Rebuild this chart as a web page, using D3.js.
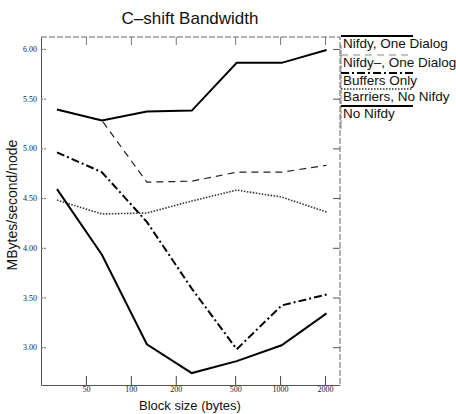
<!DOCTYPE html>
<html>
<head>
<meta charset="utf-8">
<script src="https://cdn.jsdelivr.net/npm/d3@7"></script>
<style>
  body { margin: 0; background: #fff; }
</style>
</head>
<body>
<script>
// chart size
const width = 456;
const height = 414;
const margin = { top: 37, right: 116, bottom: 29, left: 41 };

// data
const blockSizes = [32, 64, 128, 256, 512, 1024, 2048];
const seriesNames = ["Nifdy, One Dialog", "Nifdy\u2013, One Dialog", "Buffers Only", "Barriers, No Nifdy", "No Nifdy"];
const nifdyOne   = [5.39, 5.28, 5.37, 5.38, 5.86, 5.86, 5.99];
const nifdyMinus = [5.39, 5.28, 4.66, 4.67, 4.76, 4.76, 4.83];
const buffers    = [4.96, 4.76, 4.26, 3.59, 2.98, 3.42, 3.53];
const barriers   = [4.48, 4.34, 4.35, 4.47, 4.58, 4.51, 4.36];
const noNifdy    = [4.59, 3.93, 3.03, 2.74, 2.86, 3.02, 3.34];
const xTicks = [50, 100, 200, 500, 1000, 2000];
const yTicks = [3.0, 3.5, 4.0, 4.5, 5.0, 5.5, 6.0];

const allSeries = [nifdyOne, nifdyMinus, buffers, barriers, noNifdy];
const styles = [
  { dash: null,          w: 2,   color: '#000' },
  { dash: '7,5',         w: 1.2, color: '#222' },
  { dash: '8,3,2,3',     w: 2,   color: '#000' },
  { dash: '1.5,1.5',     w: 1.6, color: '#333' },
  { dash: null,          w: 2,   color: '#000' }
];

const svg = d3.select('body')
  .append('svg')
  .attr('width', width)
  .attr('height', height)
  .style('font-family', 'Liberation Sans, Arial, sans-serif');

const x = d3.scaleLog()
  .domain([25, 2520])
  .range([margin.left, width - margin.right]);

const y = d3.scaleLinear()
  .domain([2.62, 6.12])
  .range([height - margin.bottom, margin.top]);

// frame (top and right are dashed like the scan)
const x0 = margin.left, x1 = width - margin.right;
const y0 = margin.top, y1 = height - margin.bottom;
svg.append('path')
  .attr('d', `M${x0},${y0}H${x1}V${y1}`)
  .attr('fill', 'none')
  .attr('stroke', '#666')
  .attr('stroke-dasharray', '6,2');

// axes
svg.append('g')
  .attr('transform', `translate(0,${y1})`)
  .call(d3.axisBottom(x).tickValues(xTicks).tickFormat(d3.format('d')).tickSizeInner(-9).tickSizeOuter(0).tickPadding(1))
  .call(g => g.select('.domain').attr('stroke', '#555'))
  .call(g => g.selectAll('.tick line').attr('stroke', '#444'))
  .call(g => g.selectAll('text').attr('font-family', 'Liberation Serif, serif').attr('font-size', 8).attr('fill', '#222'));

svg.append('g')
  .attr('transform', `translate(${x0},0)`)
  .call(d3.axisLeft(y).tickValues(yTicks).tickFormat(d3.format('.2f')).tickSizeInner(-6).tickSizeOuter(0).tickPadding(4))
  .call(g => g.select('.domain').attr('stroke', '#555'))
  .call(g => g.selectAll('.tick line').attr('stroke', '#666').attr('stroke-dasharray', '2,1'))
  .call(g => g.selectAll('text').attr('font-family', 'Liberation Serif, serif').attr('font-size', 8).attr('fill', '#222'));

// ticks on the top and right edges
svg.append('g')
  .attr('transform', `translate(0,${y0})`)
  .call(d3.axisTop(x).tickValues(xTicks).tickFormat('').tickSizeInner(-8).tickSizeOuter(0))
  .call(g => g.select('.domain').remove())
  .call(g => g.selectAll('.tick line').attr('stroke', '#777'));

svg.append('g')
  .attr('transform', `translate(${x1},0)`)
  .call(d3.axisRight(y).tickValues(yTicks).tickFormat('').tickSizeInner(-7).tickSizeOuter(0))
  .call(g => g.select('.domain').remove())
  .call(g => g.selectAll('.tick line').attr('stroke', '#555'));

// lines (draw dashed ones first so solid ones cover shared part)
const line = d3.line()
  .x((d, i) => x(blockSizes[i]))
  .y(d => y(d));

[1, 2, 3, 4, 0].forEach(k => {
  svg.append('path')
    .datum(allSeries[k])
    .attr('d', line)
    .attr('fill', 'none')
    .attr('stroke', styles[k].color)
    .attr('stroke-width', styles[k].w)
    .attr('stroke-dasharray', styles[k].dash);
});

// legend
const legend = svg.append('g').attr('transform', `translate(${x1 + 1},0)`);
legend.append('line')
  .attr('x1', 0).attr('x2', 0)
  .attr('y1', 45).attr('y2', 130)
  .attr('stroke', '#777')
  .attr('stroke-dasharray', '4,1');

const rowY = [36, 55, 73, 89, 106];
seriesNames.forEach((name, i) => {
  legend.append('line')
    .attr('x1', 0).attr('x2', 72)
    .attr('y1', rowY[i]).attr('y2', rowY[i])
    .attr('stroke', i === 1 ? '#888' : styles[i].color)
    .attr('stroke-width', styles[i].w)
    .attr('stroke-dasharray', styles[i].dash);
  legend.append('text')
    .attr('x', 2)
    .attr('y', rowY[i] + 12)
    .attr('font-size', 13.5)
    .attr('fill', '#111')
    .text(name);
});

// titles
svg.append('text')
  .attr('x', 190).attr('y', 24)
  .attr('text-anchor', 'middle')
  .attr('font-size', 17)
  .attr('fill', '#111')
  .text('C\u2013shift Bandwidth');

svg.append('text')
  .attr('x', 190).attr('y', 410)
  .attr('text-anchor', 'middle')
  .attr('font-size', 13)
  .attr('fill', '#111')
  .text('Block size (bytes)');

svg.append('text')
  .attr('transform', `translate(17,${205}) rotate(-90)`)
  .attr('text-anchor', 'middle')
  .attr('font-size', 14)
  .attr('fill', '#111')
  .text('MBytes/second/node');
</script>
</body>
</html>
